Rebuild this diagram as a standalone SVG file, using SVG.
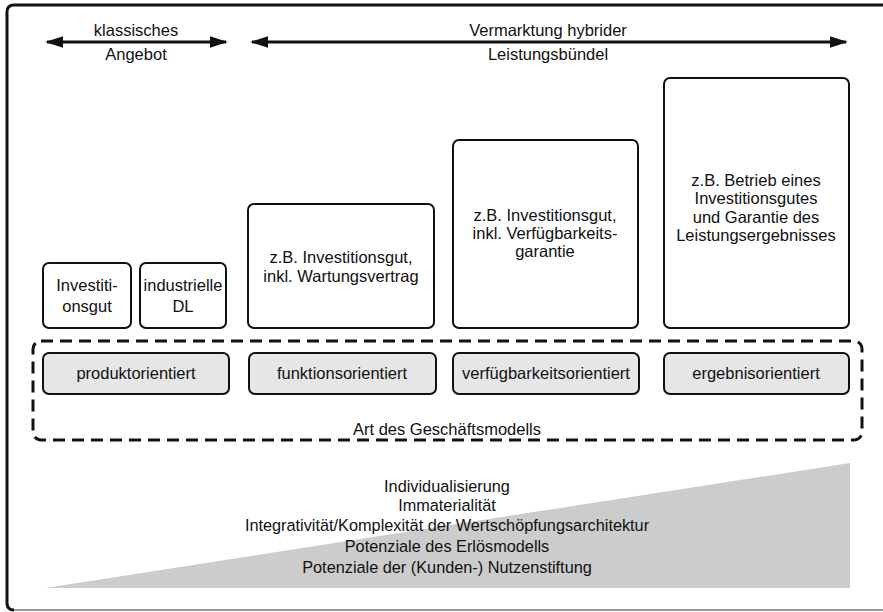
<svg xmlns="http://www.w3.org/2000/svg" width="883" height="612" viewBox="0 0 883 612">
<style>
text{font-family:"Liberation Sans",Arial,sans-serif;font-size:16.5px;fill:#111;text-anchor:middle}
.sm{font-size:16.3px}
.box{fill:#fff;stroke:#111;stroke-width:2}
.gbox{fill:#e6e6e6;stroke:#111;stroke-width:2}
.arr{stroke:#111;stroke-width:3;fill:none}
</style>
<defs>
<marker id="ah" viewBox="0 0 10 10" refX="9" refY="5" markerWidth="6" markerHeight="3.8" orient="auto-start-reverse" markerUnits="strokeWidth" preserveAspectRatio="none">
<path d="M0,0 L10,5 L0,10 z" fill="#111"/>
</marker>
</defs>
<rect width="883" height="612" fill="#fff"/>
<polygon points="45,588 850,463 850,588" fill="#cccccc"/>
<path d="M14,610 H890" fill="none" stroke="#999" stroke-width="2"/>
<path d="M890,5 H14 Q7,5 7,12 V603 Q7,610 14,610" fill="none" stroke="#111" stroke-width="3"/>
<g id="connectors">
<line class="arr" x1="47" y1="42" x2="226" y2="42" marker-start="url(#ah)" marker-end="url(#ah)"/>
<line class="arr" x1="252" y1="42" x2="846" y2="42" marker-start="url(#ah)" marker-end="url(#ah)"/>
</g>
<g id="label-klassisch"><text x="136" y="36">klassisches</text><text x="136" y="60">Angebot</text></g>
<g id="label-hybrid"><text x="548" y="36">Vermarktung hybrider</text><text x="548" y="60">Leistungsbündel</text></g>
<g id="n-investitionsgut"><rect class="box" x="43" y="263" width="88" height="65" rx="6"/><text x="87" y="291">Investiti-</text><text x="87" y="312">onsgut</text></g>
<g id="n-dl"><rect class="box" x="140" y="263" width="86" height="65" rx="6"/><text x="183" y="291">industrielle</text><text x="183" y="312">DL</text></g>
<g id="n-wartung"><rect class="box" x="248" y="204" width="186" height="124" rx="6"/><text x="341" y="263">z.B. Investitionsgut,</text><text x="341" y="282">inkl. Wartungsvertrag</text></g>
<g id="n-verfueg"><rect class="box" x="453" y="140" width="185" height="188" rx="6"/><text x="545" y="221">z.B. Investitionsgut,</text><text x="545" y="239">inkl. Verfügbarkeits-</text><text x="545" y="257">garantie</text></g>
<g id="n-betrieb"><rect class="box" x="664" y="78" width="185" height="250" rx="6"/><text x="756" y="186">z.B. Betrieb eines</text><text x="756" y="204">Investitionsgutes</text><text x="756" y="223">und Garantie des</text><text x="756" y="241">Leistungsergebnisses</text></g>
<g id="geschaeftsmodell">
<rect x="33" y="341" width="829" height="99" rx="8" fill="none" stroke="#111" stroke-width="3" stroke-dasharray="12,7"/>
<text x="447" y="435">Art des Geschäftsmodells</text>
</g>
<g id="n-produkt"><rect class="gbox" x="43" y="353" width="186" height="41" rx="6"/><text x="136" y="379">produktorientiert</text></g>
<g id="n-funktion"><rect class="gbox" x="249" y="353" width="187" height="41" rx="6"/><text x="342" y="379">funktionsorientiert</text></g>
<g id="n-verfuegbar"><rect class="gbox" x="453" y="353" width="186" height="41" rx="6"/><text x="546" y="379">verfügbarkeitsorientiert</text></g>
<g id="n-ergebnis"><rect class="gbox" x="664" y="353" width="185" height="41" rx="6"/><text x="756" y="379">ergebnisorientiert</text></g>
<g id="merkmale">
<text class="sm" x="447" y="492">Individualisierung</text>
<text class="sm" x="447" y="511">Immaterialität</text>
<text class="sm" x="447" y="531">Integrativität/Komplexität der Wertschöpfungsarchitektur</text>
<text class="sm" x="447" y="552">Potenziale des Erlösmodells</text>
<text class="sm" x="447" y="573">Potenziale der (Kunden-) Nutzenstiftung</text>
</g>
</svg>
